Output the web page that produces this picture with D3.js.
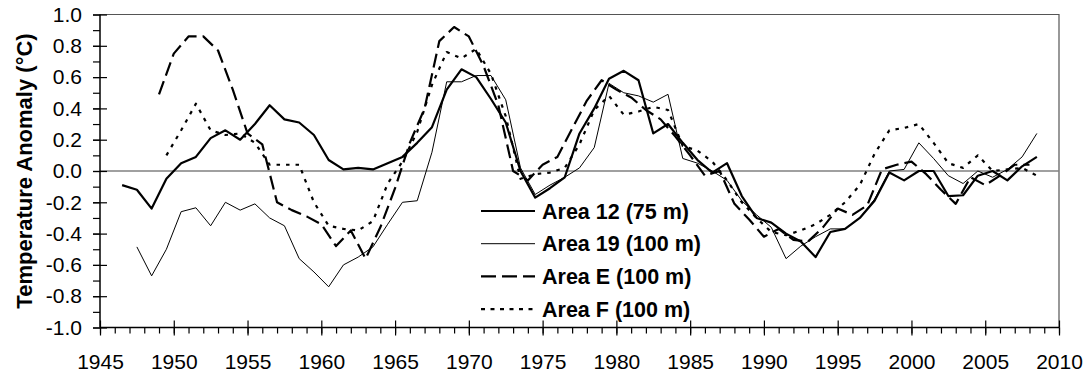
<!DOCTYPE html>
<html>
<head>
<meta charset="utf-8">
<script src="https://cdn.jsdelivr.net/npm/d3@7"></script>
<style>
  body { margin: 0; background: #fff; }
  svg { display: block; }
  text { font-family: "Liberation Sans", Arial, sans-serif; fill: #000; }
</style>
</head>
<body>
<svg id="chart" width="1088" height="379"></svg>
<script>
// Annual temperature anomalies (°C) for four survey areas
const area12Start = 1946;
const area12 = [-0.09, -0.12, -0.24, -0.05, 0.05, 0.09, 0.21, 0.26, 0.20, 0.30,
  0.42, 0.33, 0.31, 0.23, 0.07, 0.01, 0.02, 0.01, 0.05, 0.09,
  0.18, 0.28, 0.52, 0.65, 0.60, 0.46, 0.31, 0.00, -0.17, -0.11,
  -0.04, 0.24, 0.40, 0.59, 0.64, 0.58, 0.24, 0.30, 0.18, 0.07,
  -0.01, 0.05, -0.16, -0.30, -0.33, -0.40, -0.45, -0.55, -0.39, -0.37,
  -0.30, -0.19, -0.01, -0.06, 0.00, 0.00, -0.16, -0.155, -0.03, 0.00,
  -0.06, 0.03, 0.09];

const area19Start = 1947;
const area19 = [-0.485, -0.67, -0.50, -0.26, -0.235, -0.35, -0.20, -0.25, -0.21, -0.30,
  -0.35, -0.56, -0.645, -0.74, -0.60, -0.55, -0.485, -0.34, -0.20, -0.19,
  0.12, 0.57, 0.57, 0.61, 0.61, 0.455, 0.02, -0.15, -0.09, -0.04,
  0.02, 0.15, 0.56, 0.50, 0.48, 0.44, 0.49, 0.08, 0.05, 0.00,
  -0.06, -0.19, -0.28, -0.36, -0.56, -0.48, -0.42, -0.37, -0.37, -0.30,
  -0.18, 0.00, 0.01, 0.18, 0.08, -0.03, -0.08, 0.00, -0.04, 0.01,
  0.09, 0.24];

const areaEStart = 1949;
const areaE = [0.49, 0.75, 0.86, 0.86, 0.77, 0.52, 0.24, 0.17, -0.20, -0.25,
  -0.29, -0.34, -0.48, -0.38, -0.56, -0.36, -0.11, 0.18, 0.40, 0.83,
  0.92, 0.86, 0.67, 0.42, 0.00, -0.06, 0.04, 0.09, 0.27, 0.45,
  0.58, 0.52, 0.47, 0.39, 0.33, 0.22, 0.10, -0.03, 0.00, -0.21,
  -0.31, -0.42, -0.37, -0.44, -0.45, -0.36, -0.24, -0.28, -0.22, 0.01,
  0.04, 0.06, -0.02, -0.12, -0.21, -0.04, -0.09, -0.03, 0.04, 0.04];

const areaFStart = 1949;
const areaF = [0.10, 0.26, 0.43, 0.26, 0.23, 0.24, 0.18, 0.04, 0.04, 0.04,
  -0.20, -0.35, -0.37, -0.38, -0.32, -0.08, 0.06, 0.25, 0.55, 0.76,
  0.72, 0.78, 0.62, 0.35, -0.05, -0.02, -0.01, 0.02, 0.17, 0.39,
  0.48, 0.36, 0.38, 0.41, 0.39, 0.16, 0.13, 0.06, -0.06, -0.20,
  -0.30, -0.39, -0.41, -0.38, -0.34, -0.28, -0.20, -0.09, 0.11, 0.26,
  0.275, 0.30, 0.18, 0.05, 0.02, 0.10, 0.00, 0.01, 0.02, -0.03];

const seriesNames = ["Area 12 (75 m)", "Area 19 (100 m)", "Area E (100 m)", "Area F (100 m)"];

const xTickYears = [1945, 1950, 1955, 1960, 1965, 1970, 1975, 1980, 1985, 1990, 1995, 2000, 2005, 2010];
const yTickValues = [-1.0, -0.8, -0.6, -0.4, -0.2, 0.0, 0.2, 0.4, 0.6, 0.8, 1.0];
const yTickLabels = ["-1.0", "-0.8", "-0.6", "-0.4", "-0.2", "0.0", "0.2", "0.4", "0.6", "0.8", "1.0"];
const yAxisTitle = "Temperature Anomaly (°C)";

// ---- layout ----
const svg = d3.select("#chart");
const plotLeft = 100, plotRight = 1059, plotTop = 14.5, plotBottom = 327.5;

const x = d3.scaleLinear().domain([1945, 2010]).range([plotLeft, plotRight]);
const y = d3.scaleLinear().domain([-1, 1]).range([plotBottom, plotTop]);

// series styling; offset = where within the year each value is placed
const series = [
  { name: seriesNames[0], start: area12Start, values: area12, offset: 0.5, width: 2.2, dash: null },
  { name: seriesNames[1], start: area19Start, values: area19, offset: 0.5, width: 1, dash: null },
  { name: seriesNames[2], start: areaEStart, values: areaE, offset: 0, width: 2.2, dash: "14,6" },
  { name: seriesNames[3], start: areaFStart, values: areaF, offset: 0.5, width: 2.2, dash: "3.5,6" }
];

// plot frame (top / right edges)
svg.append("path")
  .attr("d", `M${plotLeft},${plotTop}H${plotRight}V${plotBottom}`)
  .attr("fill", "none").attr("stroke", "#555").attr("stroke-width", 1.2);

// zero reference line
svg.append("line")
  .attr("x1", plotLeft).attr("x2", plotRight)
  .attr("y1", y(0)).attr("y2", y(0))
  .attr("stroke", "#808080").attr("stroke-width", 1.3);

// ---- y axis ----
const yMinor = d3.range(-10, 11).map(d => d / 10);
svg.append("g").attr("transform", `translate(${plotLeft},0)`)
  .call(d3.axisLeft(y).tickValues(yMinor).tickSize(7).tickFormat(""))
  .call(g => g.select(".domain").remove());
svg.append("g").attr("transform", `translate(${plotLeft},0)`)
  .call(d3.axisRight(y).tickValues(yTickValues).tickSize(7).tickFormat(""))
  .call(g => g.select(".domain").remove());
const yAxis = svg.append("g").attr("transform", `translate(${plotLeft},0)`)
  .call(d3.axisLeft(y).tickValues(yTickValues).tickSize(7).tickPadding(11)
    .tickFormat((d, i) => yTickLabels[i]));
yAxis.select(".domain").attr("d", `M0,${plotTop}V${plotBottom}`).attr("stroke-width", 1.5);
yAxis.selectAll("text").style("font-size", "21px");
svg.selectAll("g.tick line").attr("stroke", "#000").attr("stroke-width", 1.2);

// ---- x axis ----
const xMinor = d3.range(1945, 2011);
const xg = svg.append("g").attr("transform", `translate(0,${plotBottom})`);
xg.append("g")
  .call(d3.axisBottom(x).tickValues(xMinor).tickSize(6).tickFormat(""))
  .call(g => g.select(".domain").remove());
xg.append("g")
  .call(d3.axisTop(x).tickValues(xTickYears).tickSize(7).tickFormat(""))
  .call(g => g.select(".domain").remove());
const xAxis = xg.append("g")
  .call(d3.axisBottom(x).tickValues(xTickYears).tickSize(8).tickPadding(19).tickFormat(d3.format("d")));
xAxis.select(".domain").attr("d", `M${plotLeft},0H${plotRight}`).attr("stroke-width", 1.5);
xAxis.selectAll("text").style("font-size", "21px");
xg.selectAll("g.tick line").attr("stroke", "#000").attr("stroke-width", 1.2);

// axis title
svg.append("text")
  .attr("transform", `translate(31.5,${(plotTop + plotBottom) / 2}) rotate(-90)`)
  .attr("text-anchor", "middle")
  .style("font-size", "22px").style("font-weight", "bold")
  .text(yAxisTitle);

// ---- series lines ----
const line = d3.line().x(d => x(d.year)).y(d => y(d.value));
series.forEach(s => {
  const pts = s.values.map((v, i) => ({ year: s.start + i + s.offset, value: v }));
  svg.append("path")
    .datum(pts)
    .attr("d", line)
    .attr("fill", "none")
    .attr("stroke", "#000")
    .attr("stroke-width", s.width)
    .attr("stroke-linejoin", "round")
    .attr("stroke-dasharray", s.dash);
});

// ---- legend ----
const legend = svg.append("g").attr("transform", "translate(481,211)");
series.forEach((s, i) => {
  const row = legend.append("g").attr("transform", `translate(0,${i * 32.7})`);
  row.append("line")
    .attr("x1", 0).attr("x2", 54).attr("y1", 0).attr("y2", 0)
    .attr("stroke", "#000").attr("stroke-width", s.width)
    .attr("stroke-dasharray", s.dash === null ? null : (i === 2 ? "15,6" : "4,5.5"));
  row.append("text")
    .attr("x", 61).attr("y", 0).attr("dy", "0.36em")
    .style("font-size", "21.5px").style("font-weight", "bold")
    .text(s.name);
});
</script>
</body>
</html>
